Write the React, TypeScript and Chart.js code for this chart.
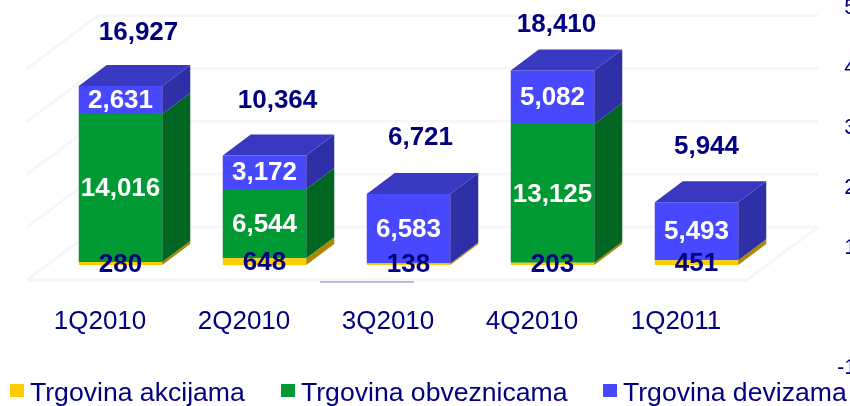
import React, { useEffect, useRef } from "react";
import { Chart, registerables } from "chart.js";

Chart.register(...registerables);

const categories = ["1Q2010", "2Q2010", "3Q2010", "4Q2010", "1Q2011"];
const akcije = [280, 648, 138, 203, 451];
const obveznice = [14016, 6544, 0, 13125, 0];
const devize = [2631, 3172, 6583, 5082, 5493];
const totals = [16927, 10364, 6721, 18410, 5944];
const rightTicks = [5, 4, 3, 2, 1, -1];
const wallLevels = [0, 5000, 10000, 15000, 20000];

const YELLOW = "#FFCC00";
const GREEN = "#009933";
const BLUE = "#4848FF";
const NAVY = "#000080";
const FONT = "'Liberation Sans', Arial, sans-serif";

const sideColors = ["#AA8800", "#006622", "#2E2EA6"];
const TOP_COLOR = "#3838C0";
const DX = 28;
const DY = 21;

const wallPlugin = {
  id: "wall",
  beforeDatasetsDraw(chart: any) {
    const { ctx, scales } = chart;
    const y = scales.y;
    const backDy = -38;
    const x0 = 98;
    const x1 = 818;
    const wx = 71;
    const wy = 53;
    ctx.save();
    ctx.strokeStyle = "#F6F6F6";
    ctx.lineWidth = 3;
    wallLevels.forEach((v) => {
      const py = y.getPixelForValue(v) + backDy;
      ctx.beginPath();
      ctx.moveTo(x0 - wx, py + wy);
      ctx.lineTo(x0, py);
      ctx.lineTo(x1, py);
      ctx.stroke();
    });
    const fy = y.getPixelForValue(0) + backDy;
    ctx.beginPath();
    ctx.moveTo(x0 - wx, fy + wy);
    ctx.lineTo(x1 - wx, fy + wy);
    ctx.lineTo(x1, fy);
    ctx.stroke();
    ctx.strokeStyle = "#BBBBDD";
    ctx.lineWidth = 2;
    ctx.beginPath();
    ctx.moveTo(320, fy + wy + 2);
    ctx.lineTo(414, fy + wy + 2);
    ctx.stroke();
    ctx.restore();
  },
};

const depthPlugin = {
  id: "depth",
  afterDatasetsDraw(chart: any) {
    const { ctx } = chart;
    ctx.save();
    const n = chart.data.datasets.length;
    for (let d = 0; d < n; d++) {
      const meta = chart.getDatasetMeta(d);
      meta.data.forEach((bar: any, i: number) => {
        const v = chart.data.datasets[d].data[i];
        if (!v) return;
        const { x, y, base, width } = bar.getProps(["x", "y", "base", "width"], true);
        const r = x + width / 2;
        const l = x - width / 2;
        ctx.fillStyle = sideColors[d];
        ctx.beginPath();
        ctx.moveTo(r, y);
        ctx.lineTo(r + DX, y - DY);
        ctx.lineTo(r + DX, base - DY);
        ctx.lineTo(r, base);
        ctx.closePath();
        ctx.fill();
        if (d === n - 1) {
          ctx.fillStyle = TOP_COLOR;
          ctx.beginPath();
          ctx.moveTo(l, y);
          ctx.lineTo(l + DX, y - DY);
          ctx.lineTo(r + DX, y - DY);
          ctx.lineTo(r, y);
          ctx.closePath();
          ctx.fill();
        }
      });
    }
    ctx.restore();
  },
};

const labelPlugin = {
  id: "valueLabels",
  afterDraw(chart: any, _args: any, opts: any) {
    const { ctx, scales } = chart;
    ctx.save();
    ctx.textAlign = "center";
    ctx.textBaseline = "middle";
    ctx.font = `bold 26px ${FONT}`;
    chart.data.datasets.forEach((ds: any, d: number) => {
      chart.getDatasetMeta(d).data.forEach((bar: any, i: number) => {
        const v = ds.data[i];
        if (!v) return;
        const { x, y, base } = bar.getProps(["x", "y", "base"], true);
        ctx.fillStyle = d === 0 ? NAVY : "#FFFFFF";
        ctx.fillText(v.toLocaleString("en-US"), x, (y + base) / 2 + 1);
      });
    });
    ctx.fillStyle = NAVY;
    totals.forEach((t, i) => {
      const bar = chart.getDatasetMeta(0).data[i];
      ctx.fillText(
        t.toLocaleString("en-US"),
        bar.x + opts.totalDx[i],
        scales.y.getPixelForValue(t) + opts.totalDy[i]
      );
    });
    ctx.restore();
  },
};

const legendPlugin = {
  id: "bottomLegend",
  afterDraw(chart: any, _args: any, opts: any) {
    const { ctx } = chart;
    ctx.save();
    ctx.font = `26.6px ${FONT}`;
    ctx.textBaseline = "alphabetic";
    chart.data.datasets.forEach((ds: any, d: number) => {
      ctx.fillStyle = ds.backgroundColor;
      ctx.fillRect(opts.boxX[d], 384, 14, 13);
      ctx.fillStyle = NAVY;
      ctx.fillText(ds.label, opts.boxX[d] + 20, 401);
    });
    ctx.restore();
  },
};

export default function App() {
  const ref = useRef<HTMLCanvasElement>(null);
  useEffect(() => {
    const chart = new Chart(ref.current!, {
      type: "bar",
      data: {
        labels: categories,
        datasets: [
          { label: "Trgovina akcijama", data: akcije, backgroundColor: YELLOW, stack: "s", yAxisID: "y" },
          { label: "Trgovina obveznicama", data: obveznice, backgroundColor: GREEN, stack: "s", yAxisID: "y" },
          { label: "Trgovina devizama", data: devize, backgroundColor: BLUE, stack: "s", yAxisID: "y" },
        ],
      },
      options: {
        animation: false,
        responsive: false,
        maintainAspectRatio: false,
        layout: { autoPadding: false, padding: { left: 48.5, right: -6.5, top: 8, bottom: 66 } },
        datasets: { bar: { categoryPercentage: 1, barPercentage: 0.58 } },
        scales: {
          x: {
            stacked: true,
            position: "bottom",
            grid: { display: false },
            border: { display: false },
            afterFit: (axis: any) => {
              axis.height = 50;
            },
            ticks: { color: NAVY, font: { family: FONT, size: 26 }, padding: 8, labelOffset: -20.5, maxRotation: 0 },
          },
          y: {
            stacked: true,
            display: false,
            min: -2365,
            max: 24314,
            grid: { display: false },
          },
          y1: {
            position: "right",
            min: 0.3,
            max: 5,
            grid: { display: false },
            border: { display: false },
            afterBuildTicks: (axis: any) => {
              axis.ticks = rightTicks.map((value) => ({ value }));
            },
            afterFit: (axis: any) => {
              axis.width = 88;
              axis.paddingTop = 0;
              axis.paddingBottom = 0;
            },
            ticks: {
              color: NAVY,
              font: { family: FONT, size: 22 },
              padding: 74,
              crossAlign: "far",
              autoSkip: false,
              callback: (v: any) => String(v),
            },
          },
        },
        plugins: {
          legend: { display: false },
          tooltip: { enabled: false },
          valueLabels: {
            totalDx: [18, 13, 12, 4, 10],
            totalDy: [-53, -55, -56, -46, -55],
          },
          bottomLegend: { boxX: [10, 281, 603] },
        } as any,
      },
      plugins: [wallPlugin, depthPlugin, labelPlugin, legendPlugin],
    } as any);
    return () => chart.destroy();
  }, []);
  return (
    <div style={{ position: "fixed", left: 0, top: 0, width: 850, height: 406, overflow: "hidden", background: "#fff" }}>
      <canvas ref={ref} width={850} height={406} style={{ display: "block" }} />
    </div>
  );
}
